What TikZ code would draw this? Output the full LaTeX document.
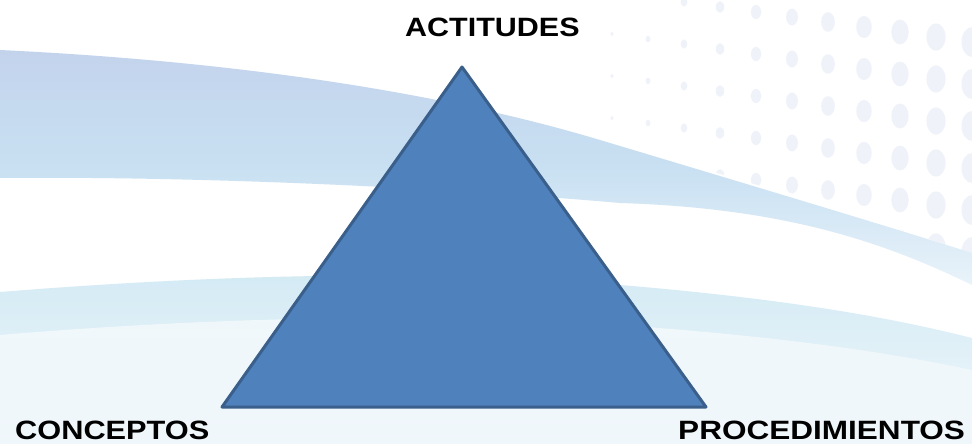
\documentclass[tikz,border=0pt]{standalone}
\usepackage{fontspec}
\setmainfont{Liberation Sans}
\definecolor{trifill}{HTML}{4F81BD}
\definecolor{triedge}{HTML}{3A5F8B}
\definecolor{bandtop}{HTML}{C3D3EC}
\definecolor{bandmid}{HTML}{C8E0F2}
\definecolor{bandbot}{HTML}{E9F3FA}
\definecolor{lowtop}{HTML}{D3EAF4}
\definecolor{lowbot}{HTML}{F0F7FB}
\definecolor{dotc}{HTML}{CDD8EE}
\tikzset{
  lbl/.style={font=\fontsize{26.5}{30}\selectfont\bfseries, text=black, inner sep=0pt, anchor=base west},
  tri/.style={fill=trifill, draw=triedge, line width=3pt, line join=round}
}
\begin{document}
\begin{tikzpicture}[x=1pt,y=-1pt]
\useasboundingbox (0,0) rectangle (972,444);
\fill[white] (0,0) rectangle (972,444);
% dots pattern upper right
\begin{scope}
\clip (600,0) -- (972,0) -- (972,253) .. controls (900,230) and (750,180) .. (600,140) -- cycle;
\foreach \i in {0,...,10}{
  \foreach \j in {0,...,6}{
    \fill[dotc, opacity=0.3] ({612+\i*36},{-8+\j*42+\i*5}) ellipse ({1.5+\i*0.9} and {2+\i*1.3});
  }
}
\end{scope}
% upper band
\shade[top color=bandtop, bottom color=bandbot, middle color=bandmid]
  (0,50) .. controls (250,62) and (450,95) .. (600,140) .. controls (750,185) and (900,230) .. (972,253)
  -- (972,285) .. controls (880,240) and (780,208) .. (620,203) .. controls (450,188) and (200,176) .. (0,178) -- cycle;
% lower band
\shade[top color=lowtop, bottom color=lowbot]
  (0,292) .. controls (200,276) and (420,268) .. (620,285) .. controls (800,300) and (900,320) .. (972,338)
  -- (972,444) -- (0,444) -- cycle;
\shade[top color=white, bottom color=lowbot, opacity=0.6]
  (0,335) .. controls (200,318) and (420,312) .. (620,325) .. controls (800,338) and (900,355) .. (972,370)
  -- (972,444) -- (0,444) -- cycle;
% triangle
\coordinate (apex) at (462,67);
\coordinate (bl) at (222,407);
\coordinate (br) at (706,407);
\draw[tri] (apex) -- (br) -- (bl) -- cycle;
% labels
\node[lbl, xscale=1.15] (act) at (405,37) {ACTITUDES};
\node[lbl, xscale=1.16] (con) at (15,439) {CONCEPTOS};
\node[lbl, xscale=1.19] (pro) at (678,439) {PROCEDIMIENTOS};
\end{tikzpicture}
\end{document}
